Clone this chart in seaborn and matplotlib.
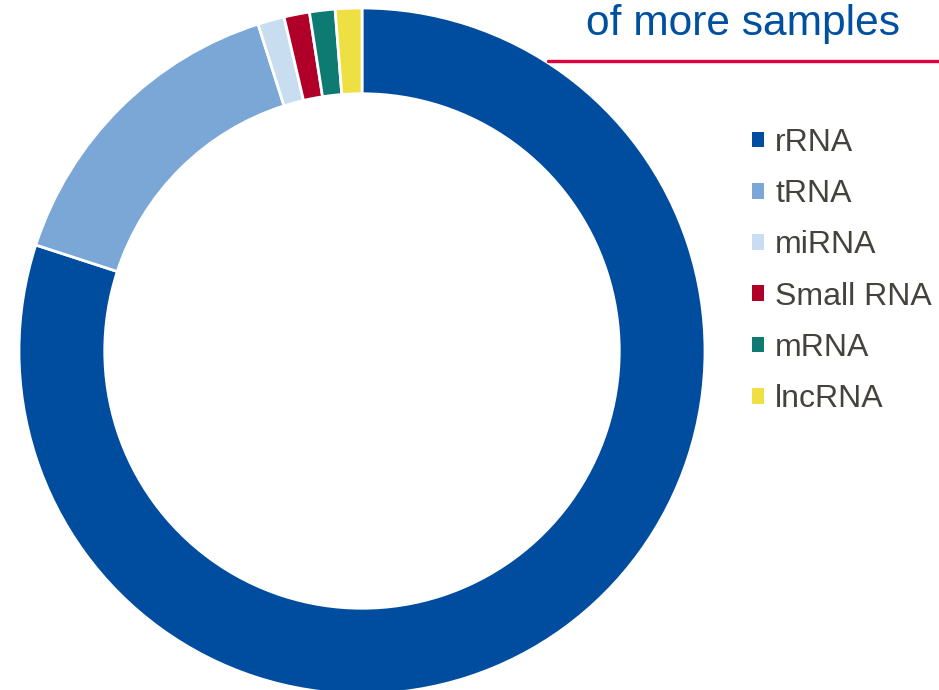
import matplotlib
matplotlib.use("Agg")
import matplotlib.pyplot as plt
from matplotlib.patches import Patch
from matplotlib.lines import Line2D
import seaborn as sns

categories = ["rRNA", "tRNA", "miRNA", "Small RNA", "mRNA", "lncRNA"]
values = [80.0, 15.1, 1.25, 1.2, 1.2, 1.25]
colors = ["#004C9E", "#7BA7D6", "#C9DDF0", "#B0002A", "#0E7B72", "#EEE042"]
title_text = "of more samples"

sns.set_theme(style="white")
plt.rcParams["font.family"] = ["Liberation Sans", "DejaVu Sans"]
palette = sns.color_palette(colors)

W, H = 939, 690
fig = plt.figure(figsize=(W / 100, H / 100), dpi=100)
fig.patch.set_facecolor("white")

cx, cy, r = 362, 351, 343
ax = fig.add_axes([(cx - r) / W, (H - cy - r) / H, 2 * r / W, 2 * r / H])
ax.pie(values, colors=palette, startangle=90, counterclock=False, radius=1,
       wedgeprops=dict(width=0.25, edgecolor="white", linewidth=2))
ax.set_xlim(-1, 1)
ax.set_ylim(-1, 1)
ax.set_aspect("equal")
ax.axis("off")

fig.text(743.5 / W, 1 - 35 / H, title_text, ha="center", va="baseline",
         fontsize=30.6, color="#0050A0")
fig.add_artist(Line2D([548 / W, 1.0], [1 - 60.5 / H, 1 - 60.5 / H],
                      color="#E0003C", linewidth=2.4, transform=fig.transFigure))

handles = [Patch(facecolor=c, edgecolor="none") for c in palette]
leg = fig.legend(handles, categories, loc="upper left",
                 bbox_to_anchor=(752 / W, 1 - 128 / H), frameon=False,
                 fontsize=23, handlelength=0.38, handleheight=0.38,
                 handletextpad=0.34, labelspacing=0.665, borderpad=0,
                 borderaxespad=0)
for t in leg.get_texts():
    t.set_color("#45423D")

fig.savefig("out.png", dpi=100, facecolor="white")
